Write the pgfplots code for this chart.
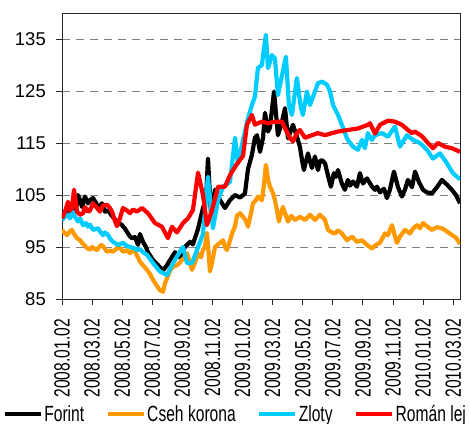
\documentclass[border=0pt]{standalone}
\usepackage{fontspec}
\setmainfont{Liberation Sans}
\newfontfamily\narrowfont{Liberation Sans}[FakeStretch=0.71]
\usepackage{pgfplots}
\pgfplotsset{compat=1.18}
\definecolor{cseh}{HTML}{FF9900}
\definecolor{zloty}{HTML}{00CCFF}
\definecolor{lej}{HTML}{FF0000}
\begin{document}
\begin{tikzpicture}
\useasboundingbox (-62bp,-125bp) rectangle (408bp,299bp);
\begin{axis}[
  at={(0,0)}, anchor=south west,
  scale only axis, width=398bp, height=286bp,
  xmin=0, xmax=26.45, ymin=85, ymax=140,
  ytick={85,95,...,135},
  xtick={0,2,...,26},
  xticklabels={2008.01.02,2008.03.02,2008.05.02,2008.07.02,2008.09.02,2008.11.02,2009.01.02,2009.03.02,2009.05.02,2009.07.02,2009.09.02,2009.11.02,2010.01.02,2010.03.02},
  x tick label style={rotate=90, anchor=east, inner sep=0bp,
    font=\narrowfont\fontsize{22bp}{22bp}\selectfont},
  xticklabel shift=14bp,
  y tick label style={inner sep=0bp, font=\fontsize{18.5bp}{20bp}\selectfont},
  yticklabel shift=10bp,
  /pgf/number format/assume math mode=true,
  tick align=outside, major tick length=6bp,
  xtick pos=bottom, ytick pos=left,
  ymajorgrids,
  grid style={gray, dash pattern=on 8bp off 6bp, line width=0.8bp},
  axis line style={line width=0.9bp, black!85},
  tick style={black!85, line width=0.9bp},
  no markers,
  every axis plot/.append style={line width=4.2bp, line join=round},
  legend columns=4,
  legend image code/.code={\draw[#1, line width=4bp] (0bp,0bp) -- (36bp,0bp);},
  legend style={draw=none, at={(0.435,-0.358)}, anchor=north,
    font=\narrowfont\fontsize{22bp}{22bp}\selectfont,
    nodes={inner sep=1.5bp},
    /tikz/every even column/.append style={column sep=20bp}},
]
% Forint
\addplot[black] coordinates {
(0,100.5)(0.20,101.5)(0.40,102.5)(0.60,101.5)(0.80,103)(0.93,102)(1.06,105)(1.20,104)(1.33,102.7)(1.53,104.7)(1.73,103.4)(1.86,104)(2.06,104.4)(2.26,103.5)(2.39,102.5)(2.66,103.4)(2.86,101.8)(3.06,102)(3.32,101)(3.65,99.9)(3.99,99.2)(4.19,98.5)(4.32,97.9)(4.52,97)(4.65,96.7)(4.85,96.9)(5.05,95.4)(5.18,97.5)(5.38,96)(5.58,95)(5.71,94)(6.05,92.5)(6.38,91.5)(6.71,90.5)(6.98,91.5)(7.18,92.5)(7.51,94)(7.84,93)(8.17,95)(8.50,96)(8.70,95.5)(9.04,98.5)(9.37,102.5)(9.57,104)(9.70,112)(9.90,101.5)(10.17,106)(10.50,104)(10.83,102.5)(11.16,104)(11.50,105)(11.83,104.5)(12.16,105.3)(12.36,110)(12.62,112.7)(12.82,116)(12.96,116.5)(13.16,113.3)(13.36,116)(13.49,120.8)(13.69,117.2)(13.82,118)(14.09,124.9)(14.35,116.5)(14.62,119.1)(14.82,121.7)(15.02,115.9)(15.35,118.5)(15.61,116.2)(15.81,114.3)(15.95,111.7)(16.08,109.8)(16.21,111.5)(16.35,113)(16.48,111.5)(16.61,110.2)(16.81,112.4)(17.01,109.8)(17.14,111.5)(17.28,111.7)(17.48,111.1)(17.67,108.8)(17.87,106.6)(18.07,109.2)(18.21,108.5)(18.34,109.8)(18.60,107.2)(18.80,106)(19.00,107.9)(19.14,106.8)(19.34,107.6)(19.60,106.6)(19.80,109.2)(20.00,107.2)(20.27,108.2)(20.60,106.6)(20.80,106)(20.93,106.6)(21.13,105.5)(21.40,106.2)(21.59,104.4)(21.79,106)(22.06,109.5)(22.33,106.5)(22.59,104.7)(22.79,106)(22.99,107.9)(23.26,106.5)(23.46,109.5)(23.72,107.5)(23.99,106)(24.25,105.5)(24.58,105.3)(24.92,106.5)(25.25,107.9)(25.58,107)(25.91,106)(26.18,105)(26.45,103.4)
};
% Cseh korona
\addplot[cseh] coordinates {
(0,98.3)(0.13,97.8)(0.33,97.3)(0.53,98)(0.66,98.3)(0.80,97.5)(1.00,96.7)(1.20,96.3)(1.33,95.8)(1.53,95.2)(1.66,94.8)(1.86,94.5)(1.99,95)(2.19,94.6)(2.33,94.4)(2.52,95.2)(2.66,95.4)(2.86,94.6)(2.99,94.1)(3.19,94.3)(3.39,94.1)(3.59,94.6)(3.72,95)(3.92,94.6)(4.05,94.1)(4.32,94.4)(4.52,93.8)(4.72,94.4)(4.85,94.1)(5.05,93)(5.18,92.2)(5.38,91.5)(5.65,90.6)(5.85,89.8)(6.05,88.7)(6.31,87.5)(6.51,86.7)(6.71,86.4)(6.84,88)(6.98,89)(7.18,90.5)(7.38,91.2)(7.64,91.5)(7.84,92)(7.97,92.5)(8.17,93)(8.31,93.8)(8.50,92)(8.64,90.6)(8.84,92)(9.04,93.8)(9.24,93)(9.37,94.5)(9.50,95)(9.63,97.7)(9.77,93)(9.83,90.3)(9.97,92)(10.17,95)(10.37,95.5)(10.50,95.8)(10.70,96.3)(10.83,95)(10.96,94.4)(11.16,96.2)(11.30,97.6)(11.50,99)(11.63,101)(11.83,101.5)(12.03,100.8)(12.23,100)(12.36,98.9)(12.56,101.5)(12.69,103.4)(12.89,104)(13.02,104.7)(13.29,104)(13.42,107)(13.55,110.8)(13.69,108)(13.82,106.6)(14.02,105.4)(14.15,104)(14.29,102)(14.42,99.9)(14.55,101.5)(14.68,102.7)(14.88,101)(15.02,99.9)(15.22,101)(15.48,100.2)(15.81,100.8)(16.15,100.2)(16.48,101.2)(16.81,100.2)(17.14,101.2)(17.48,100.2)(17.67,98.3)(17.94,97.8)(18.14,97.6)(18.34,98.2)(18.60,97.6)(18.94,96.3)(19.27,97)(19.60,96)(19.93,96.3)(20.27,95.4)(20.60,94.7)(20.86,95.4)(21.13,95.8)(21.46,97.6)(21.66,97.3)(21.93,99.2)(22.13,97)(22.26,95.8)(22.46,97)(22.79,98.3)(23.12,97.6)(23.32,98.5)(23.59,99.2)(23.79,98.6)(23.99,99.6)(24.25,99)(24.58,98.3)(24.92,98.8)(25.25,98.6)(25.58,98)(25.91,97.3)(26.18,96.8)(26.45,95.6)
};
% Zloty
\addplot[zloty] coordinates {
(0,100.2)(0.20,100.8)(0.40,101.2)(0.53,100.5)(0.73,101.8)(0.86,100.8)(1.06,99.9)(1.20,100.5)(1.40,99.2)(1.59,99.6)(1.73,98.9)(1.86,99.3)(2.06,98.3)(2.39,98.6)(2.52,98)(2.72,97.3)(2.86,97.8)(3.06,97.3)(3.19,96.6)(3.39,96)(3.72,95.4)(4.05,95.8)(4.32,95.2)(4.52,95)(4.78,94.8)(4.98,94.4)(5.18,94.6)(5.38,94)(5.65,93.5)(6.05,91.9)(6.51,90.3)(6.98,89.6)(7.38,91.9)(7.71,93.5)(8.04,95)(8.31,91.9)(8.64,91.9)(8.97,94.4)(9.37,97.5)(9.70,108.5)(10.03,98.6)(10.37,104)(10.70,106.6)(11.16,107.5)(11.50,116)(11.69,111)(12.03,115.6)(12.36,119.8)(12.62,122.3)(12.82,123.9)(13.02,129.4)(13.29,130)(13.36,131.9)(13.55,135.8)(13.69,129.4)(13.95,131.9)(14.15,131.3)(14.35,124.2)(14.62,128)(14.88,131.6)(15.08,122.3)(15.28,120.4)(15.61,127.5)(15.88,121.7)(16.01,120.4)(16.28,124.9)(16.48,122.3)(16.81,124.9)(17.01,126.5)(17.28,126.8)(17.61,126.2)(17.81,124.9)(18.01,122.3)(18.34,120.4)(18.60,118.5)(18.94,115.9)(19.00,115.6)(19.34,114.3)(19.67,113.7)(19.93,115.6)(20.13,114)(20.33,116.9)(20.60,115.6)(20.80,116.5)(21.26,116.9)(21.66,116.2)(22.13,118.2)(22.46,114.3)(22.92,116.5)(23.32,115.6)(23.79,115)(24.25,113.7)(24.65,112)(25.12,113)(25.58,111.1)(25.98,109.2)(26.45,108)
};
% Roman lej
\addplot[lej] coordinates {
(0,100.5)(0.20,101.8)(0.40,103.7)(0.53,102)(0.66,102.5)(0.80,106)(1.00,101.8)(1.20,101.2)(1.40,101.5)(1.53,102.7)(1.73,101.8)(1.86,102)(2.06,103.4)(2.33,102.5)(2.52,101.8)(2.72,103)(2.99,103.1)(3.19,102.5)(3.32,101.8)(3.52,100)(3.65,99)(3.85,100.5)(4.05,102.5)(4.32,102)(4.52,101.5)(4.72,102.2)(4.98,101.8)(5.32,102.5)(5.71,101.5)(6.18,99.6)(6.64,98.9)(7.04,96.7)(7.31,98.9)(7.64,97.8)(8.04,99.6)(8.37,100.5)(8.70,102.1)(9.04,109.3)(9.37,105)(9.63,99.2)(9.97,102.1)(10.37,106.6)(10.83,106.6)(11.16,108.8)(11.63,111)(12.03,112.5)(12.29,118.5)(12.62,120.4)(12.82,118.5)(13.02,118.8)(13.29,119.1)(13.69,118.8)(14.15,119.1)(14.62,119.1)(14.82,117.8)(15.15,116)(15.35,115.3)(15.61,116.9)(15.81,117.5)(16.15,116)(16.61,116.5)(17.01,116.9)(17.48,116.5)(17.94,116.9)(18.34,117.2)(19.00,117.5)(19.67,117.8)(20.33,118.5)(20.47,118.8)(20.80,116.8)(21.13,118.5)(21.66,119.3)(22.13,119.1)(22.59,118.5)(22.99,117.5)(23.26,116.9)(23.46,117.2)(23.92,116.3)(24.32,115)(24.65,114)(24.98,115)(25.45,114.3)(25.91,114)(26.45,113.3)
};
\legend{Forint,Cseh korona,Zloty,Román lej}
\end{axis}
\end{tikzpicture}
\end{document}
